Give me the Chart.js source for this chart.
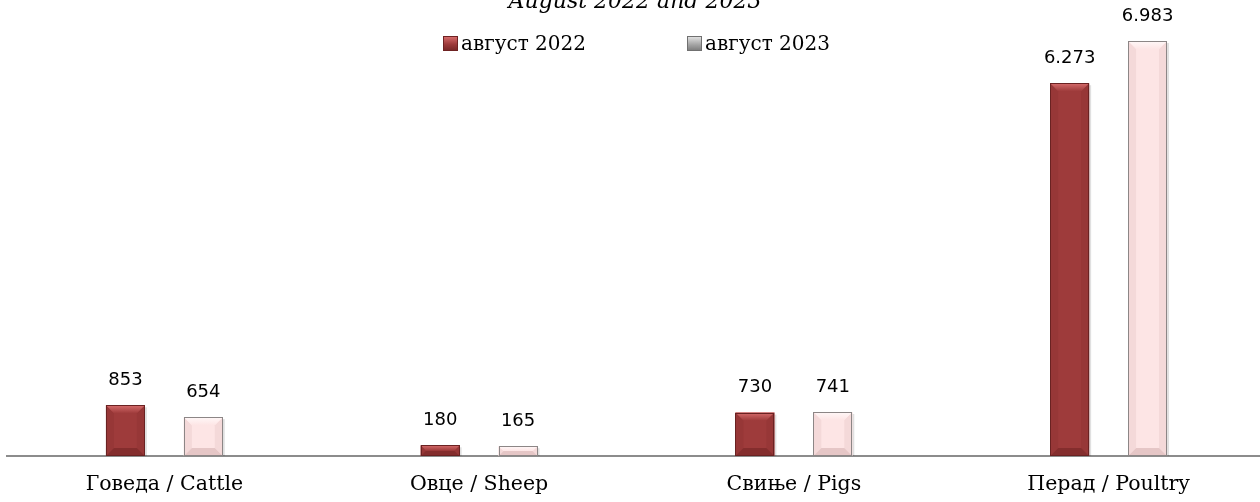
<!DOCTYPE html>
<html>
<head>
<meta charset="utf-8">
<script src="https://cdn.jsdelivr.net/npm/chart.js@4.4.0/dist/chart.umd.min.js"></script>
<style>
  html, body { margin: 0; padding: 0; background: #fff; overflow: hidden; width: 1260px; height: 502px; }
  #wrap { position: absolute; left: 0; top: 0; width: 1266px; height: 502px; }
  #title { position: absolute; left: 0; width: 1266px; top: -10px; text-align: center; font-family: "DejaVu Serif", serif; font-style: italic; font-size: 22px; line-height: 22px; color: #000; padding-left: 2px; }
  .leg { position: absolute; top: 32px; font-family: "DejaVu Serif", serif; font-size: 20px; line-height: 22px; color: #000; white-space: nowrap; }
  .leg span.sw { display: inline-block; width: 15px; height: 15px; vertical-align: -1px; margin-right: 3px; box-sizing: border-box; }
</style>
</head>
<body>
<div id="wrap">
  <canvas id="c" width="1266" height="502"></canvas>
</div>
<div id="title">August 2022 and 2023</div>
<div class="leg" id="leg1" style="left:443px"><span class="sw" style="background:linear-gradient(#d46a6a,#9e3a3a 55%,#7a2828);border:1px solid #6e2222"></span>август 2022</div>
<div class="leg" id="leg2" style="left:687px"><span class="sw" style="background:linear-gradient(#e0e0e0,#a8a8a8 55%,#808080);border:1px solid #707070"></span>август 2023</div>
<script>
const categories = ['Говеда / Cattle', 'Овце / Sheep', 'Свиње / Pigs', 'Перад / Poultry'];
const seriesNames = ['август 2022', 'август 2023'];
const aug2022 = [853, 180, 730, 6273];
const aug2023 = [654, 165, 741, 6983];

const styles = [
  { fill: '#9e3b3b', top: '#d66c6c', side: '#973737', bottom: '#842d2d', border: '#6a2222' },
  { fill: '#fde5e5', top: '#fff8f8', side: '#f4d9d9', bottom: '#e5c6c6', border: '#8c8686' }
];

function fmt(v) {
  return String(v).replace(/\B(?=(\d{3})+(?!\d))/g, '.');
}

const bevelPlugin = {
  id: 'bevel',
  afterDatasetsDraw(chart) {
    const ctx = chart.ctx;
    chart.data.datasets.forEach((ds, di) => {
      const st = styles[di];
      const meta = chart.getDatasetMeta(di);
      meta.data.forEach((bar, i) => {
        const p = bar.getProps(['x', 'y', 'base', 'width'], true);
        const l = p.x - p.width / 2, r = p.x + p.width / 2, t = p.y, b = p.base;
        const h = b - t;
        const bv = Math.min(8, h / 2);
        ctx.save();
        ctx.fillStyle = 'rgba(0,0,0,0.12)';
        ctx.fillRect(r, t + 2, 2, h - 2);
        ctx.fillStyle = st.side;
        ctx.beginPath(); ctx.moveTo(l, t); ctx.lineTo(l + bv, t + bv); ctx.lineTo(l + bv, b - bv); ctx.lineTo(l, b); ctx.closePath(); ctx.fill();
        ctx.beginPath(); ctx.moveTo(r, t); ctx.lineTo(r - bv, t + bv); ctx.lineTo(r - bv, b - bv); ctx.lineTo(r, b); ctx.closePath(); ctx.fill();
        ctx.fillStyle = st.bottom;
        ctx.beginPath(); ctx.moveTo(l, b); ctx.lineTo(l + bv, b - bv); ctx.lineTo(r - bv, b - bv); ctx.lineTo(r, b); ctx.closePath(); ctx.fill();
        const g = ctx.createLinearGradient(0, t, 0, t + bv);
        g.addColorStop(0, st.top); g.addColorStop(1, st.fill);
        ctx.fillStyle = g;
        ctx.beginPath(); ctx.moveTo(l, t); ctx.lineTo(r, t); ctx.lineTo(r - bv, t + bv); ctx.lineTo(l + bv, t + bv); ctx.closePath(); ctx.fill();
        ctx.strokeStyle = st.border;
        ctx.lineWidth = 1;
        ctx.strokeRect(Math.round(l) + 0.5, Math.round(t) + 0.5, Math.round(r - l) - 1, Math.round(b - t) - 1);
        ctx.restore();
        ctx.save();
        ctx.fillStyle = '#000';
        ctx.font = '18px "DejaVu Sans", sans-serif';
        ctx.textAlign = 'center';
        ctx.textBaseline = 'middle';
        ctx.fillText(fmt(ds.data[i]), p.x, t - 25);
        ctx.restore();
      });
    });
  }
};

new Chart(document.getElementById('c'), {
  type: 'bar',
  data: {
    labels: categories,
    datasets: [
      { label: seriesNames[0], data: aug2022, backgroundColor: styles[0].fill, borderWidth: 0 },
      { label: seriesNames[1], data: aug2023, backgroundColor: styles[1].fill, borderWidth: 0 }
    ]
  },
  options: {
    responsive: false,
    animation: false,
    devicePixelRatio: 1,
    layout: { padding: { left: 7, right: 0, top: 40, bottom: 0 } },
    plugins: { legend: { display: false }, title: { display: false }, tooltip: { enabled: false } },
    datasets: { bar: { categoryPercentage: 0.495, barPercentage: 0.5 } },
    scales: {
      x: {
        grid: { display: false, drawTicks: false },
        border: { display: true, color: '#8c8c8c', width: 2 },
        ticks: { color: '#000', padding: 16, font: { family: '"DejaVu Serif", serif', size: 20.5 } },
        afterFit(scale) { scale.height = 46; }
      },
      y: { display: false, min: 0, max: 7000 }
    }
  },
  plugins: [bevelPlugin]
});
</script>
</body>
</html>
